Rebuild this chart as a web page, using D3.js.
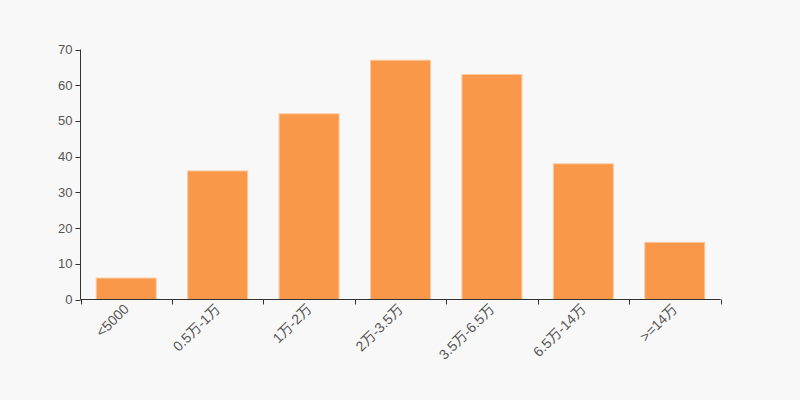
<!DOCTYPE html>
<html><head><meta charset="utf-8">
<script src="https://cdn.jsdelivr.net/npm/d3@7"></script>
<style>body{margin:0;background:#f8f8f8;}svg{display:block;}</style>
</head><body>
<svg id="c" width="800" height="400"></svg>
<script>
const categories = ["<5000","0.5万-1万","1万-2万","2万-3.5万","3.5万-6.5万","6.5万-14万",">=14万"];
const values = [6,36,52,67,63,38,16];
const yTicks = [0,10,20,30,40,50,60,70];

const svg = d3.select("#c");
svg.append("rect").attr("width",800).attr("height",400).attr("fill","#f8f8f8");
const m = {l:80.5, r:720.5, t:49.5, b:299.5};
const x = d3.scaleBand().domain(categories).range([m.l, m.r]).paddingInner(0.344).paddingOuter(0.172);
const xb = d3.scaleBand().domain(categories).range([m.l, m.r]);
const y = d3.scaleLinear().domain([0,70]).range([m.b, m.t]);
const font = "Liberation Sans, Arial, 'Noto Sans CJK SC', sans-serif";

svg.selectAll("rect.bar").data(values).join("rect").attr("class","bar")
  .attr("x",(d,i)=>x(categories[i])).attr("width",x.bandwidth())
  .attr("y",d=>y(d)).attr("height",d=>m.b-y(d))
  .attr("fill","#f89848").attr("stroke","#fbc9a0").attr("stroke-width",1);

// y axis
const ya = svg.append("g");
ya.append("line").attr("x1",m.l).attr("x2",m.l).attr("y1",m.t).attr("y2",m.b).attr("stroke","#333");
ya.selectAll("line.t").data(yTicks).join("line").attr("class","t")
  .attr("x1",m.l-5).attr("x2",m.l).attr("y1",d=>Math.round(y(d))+0.5).attr("y2",d=>Math.round(y(d))+0.5).attr("stroke","#333");
ya.selectAll("text").data(yTicks).join("text")
  .attr("x",m.l-8).attr("y",d=>y(d)).attr("dy","0.35em").attr("text-anchor","end")
  .attr("font-family",font).attr("font-size",13).attr("fill","#555").text(d=>d);

// x axis
const xa = svg.append("g");
xa.append("line").attr("x1",m.l).attr("x2",m.r).attr("y1",m.b).attr("y2",m.b).attr("stroke","#333");
const bounds = categories.map(c=>xb(c)).concat([m.r]);
xa.selectAll("line.t").data(bounds).join("line").attr("class","t")
  .attr("x1",d=>Math.round(d)+0.5).attr("x2",d=>Math.round(d)+0.5).attr("y1",m.b).attr("y2",m.b+5).attr("stroke","#333");
xa.selectAll("text").data(categories).join("text")
  .attr("transform",c=>`translate(${xb(c)+xb.bandwidth()/2},${m.b+7}) rotate(-45)`)
  .attr("text-anchor","end").attr("dy","0.35em")
  .attr("font-family",font).attr("font-size",14).attr("fill","#555").text(c=>c);
</script>
</body></html>
